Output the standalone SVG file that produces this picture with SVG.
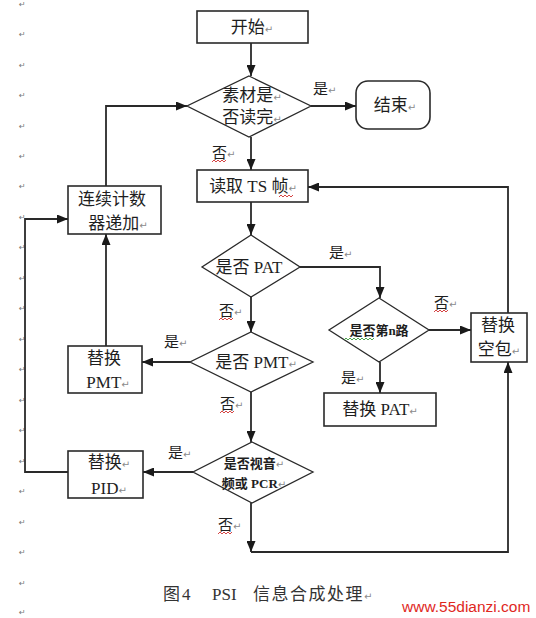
<svg xmlns="http://www.w3.org/2000/svg" width="536" height="618" viewBox="0 0 536 618">
<style>
.box{fill:#fff;stroke:#2a2a2a;stroke-width:1.6}
.dia{fill:#fff;stroke:#2a2a2a;stroke-width:1.3}
.ln{fill:none;stroke:#2a2a2a;stroke-width:1.8}
.t{font-family:"Liberation Serif","Noto Sans CJK SC",serif;font-size:17px;fill:#1e1e1e;text-anchor:middle}
.s{font-family:"Liberation Serif","Noto Sans CJK SC",serif;font-size:13px;fill:#1e1e1e;text-anchor:middle;font-weight:bold}
.lb{font-family:"Liberation Serif","Noto Sans CJK SC",serif;font-size:15px;fill:#1e1e1e}
.pm{font-family:"DejaVu Sans",sans-serif;font-size:10px;fill:#8a8a8a;font-weight:normal}
.mg{font-family:"DejaVu Sans",sans-serif;font-size:8px;fill:#777}
.sq{fill:none;stroke:#d03030;stroke-width:0.9}
.cap{font-family:"Liberation Serif","Noto Sans CJK SC",serif;font-size:17px;fill:#333}
.wm{font-family:"Liberation Sans",Arial,sans-serif;font-size:15.5px;fill:#e0281e}
</style>
<defs>
<marker id="ah" markerUnits="userSpaceOnUse" markerWidth="11" markerHeight="9" refX="11" refY="4.5" orient="auto">
<path d="M0,0 L11,4.5 L0,9 z" fill="#1a1a1a"/>
</marker>
</defs>
<rect width="536" height="618" fill="#fff"/>

<g id="margin-marks" class="mg">
<text x="19" y="7">↵</text><text x="19" y="37">↵</text><text x="19" y="68">↵</text><text x="19" y="98">↵</text><text x="19" y="129">↵</text><text x="19" y="159">↵</text><text x="19" y="189">↵</text><text x="19" y="220">↵</text><text x="19" y="250">↵</text><text x="19" y="281">↵</text><text x="19" y="311">↵</text><text x="19" y="342">↵</text><text x="19" y="372">↵</text><text x="19" y="403">↵</text><text x="19" y="433">↵</text><text x="19" y="464">↵</text><text x="19" y="494">↵</text><text x="19" y="525">↵</text><text x="19" y="555">↵</text><text x="19" y="586">↵</text><text x="19" y="615">↵</text>
</g>

<g id="connectors">
<path class="ln" d="M251,43 V76" marker-end="url(#ah)"/>
<path class="ln" d="M311,106 H356" marker-end="url(#ah)"/>
<path class="ln" d="M251,137 V170" marker-end="url(#ah)"/>
<path class="ln" d="M251,202 V235" marker-end="url(#ah)"/>
<path class="ln" d="M300,267 H380 V298" marker-end="url(#ah)"/>
<path class="ln" d="M251,297 V332" marker-end="url(#ah)"/>
<path class="ln" d="M190,362 H142" marker-end="url(#ah)"/>
<path class="ln" d="M251,392 V442" marker-end="url(#ah)"/>
<path class="ln" d="M193,472 H143" marker-end="url(#ah)"/>
<path class="ln" d="M251,503 V552" marker-end="url(#ah)"/>
<path class="ln" d="M251,552 H508 V362" marker-end="url(#ah)"/>
<path class="ln" d="M429,330 H471" marker-end="url(#ah)"/>
<path class="ln" d="M380,362 V393" marker-end="url(#ah)"/>
<path class="ln" d="M508,313 V187 H308" marker-end="url(#ah)"/>
<path class="ln" d="M106,346 V234" marker-end="url(#ah)"/>
<path class="ln" d="M68,472 H25 V219 H68" marker-end="url(#ah)"/>
<path class="ln" d="M106,186 V106 H187" marker-end="url(#ah)"/>
<text class="lb" x="313" y="94">是<tspan class="pm">↵</tspan></text>
<text class="lb" x="212" y="158">否<tspan class="pm">↵</tspan></text>
<text class="lb" x="329" y="258">是<tspan class="pm">↵</tspan></text>
<text class="lb" x="219" y="316">否<tspan class="pm">↵</tspan></text>
<text class="lb" x="164" y="347">是<tspan class="pm">↵</tspan></text>
<text class="lb" x="220" y="409">否<tspan class="pm">↵</tspan></text>
<text class="lb" x="168" y="458">是<tspan class="pm">↵</tspan></text>
<text class="lb" x="218" y="530">否<tspan class="pm">↵</tspan></text>
<text class="lb" x="434" y="308">否<tspan class="pm">↵</tspan></text>
<text class="lb" x="341" y="383">是<tspan class="pm">↵</tspan></text>
<path class="sq" d="M212,162 l2,-2 l2,2 l2,-2 l2,2 l2,-2 l2,2 l2,-2"/>
<path class="sq" d="M219,320 l2,-2 l2,2 l2,-2 l2,2 l2,-2 l2,2 l2,-2"/>
<path class="sq" d="M220,413 l2,-2 l2,2 l2,-2 l2,2 l2,-2 l2,2 l2,-2"/>
<path class="sq" d="M218,534 l2,-2 l2,2 l2,-2 l2,2 l2,-2 l2,2 l2,-2"/>
<path class="sq" d="M434,312 l2,-2 l2,2 l2,-2 l2,2 l2,-2 l2,2 l2,-2"/>
</g>

<g id="start">
<rect class="box" x="197" y="11" width="111" height="32"/>
<text class="t" x="252" y="33">开始<tspan class="pm">↵</tspan></text>
</g>

<g id="check-done">
<polygon class="dia" points="249,76 311,106 249,137 187,106"/>
<text class="t" x="252" y="101">素材是<tspan class="pm">↵</tspan></text>
<text class="t" x="252" y="123">否读完<tspan class="pm">↵</tspan></text>
</g>

<g id="end">
<rect class="box" x="356" y="81" width="74" height="48" rx="12" ry="12"/>
<text class="t" x="395" y="111">结束<tspan class="pm">↵</tspan></text>
</g>

<g id="read-ts">
<rect class="box" x="197" y="170" width="111" height="32"/>
<text class="t" x="253" y="192">读取 TS 帧<tspan class="pm">↵</tspan></text>
<path class="sq" d="M279,197 l2,-2 l2,2 l2,-2 l2,2 l2,-2 l2,2 l2,-2"/>
</g>

<g id="is-pat">
<polygon class="dia" points="251,235 300,267 251,297 202,267"/>
<text class="t" x="249" y="273">是否 PAT</text>
</g>

<g id="is-nth">
<polygon class="dia" points="379,298 429,330 379,362 329,330"/>
<text class="s" x="379" y="335">是否第n路</text>
<path fill="none" stroke="#3a9a3a" stroke-width="0.9" d="M344,340 l2,-2 l2,2 l2,-2 l2,2 l2,-2 l2,2 l2,-2 l2,2 l2,-2 l2,2 l2,-2 l2,2 l2,-2 l2,2 l2,-2"/>
</g>

<g id="replace-null">
<rect class="box" x="471" y="313" width="56" height="49"/>
<text class="t" x="498" y="331">替换</text>
<text class="t" x="499" y="355">空包<tspan class="pm">↵</tspan></text>
</g>

<g id="replace-pat">
<rect class="box" x="324" y="393" width="112" height="33"/>
<text class="t" x="380" y="415">替换 PAT<tspan class="pm">↵</tspan></text>
</g>

<g id="is-pmt">
<polygon class="dia" points="251,332 313,362 251,392 190,362"/>
<text class="t" x="256" y="368">是否 PMT<tspan class="pm">↵</tspan></text>
</g>

<g id="is-av">
<polygon class="dia" points="252,442 313,472 252,503 193,472"/>
<text class="s" x="254" y="468">是否视音<tspan class="pm">↵</tspan></text>
<text class="s" x="254" y="488">频或 PCR<tspan class="pm">↵</tspan></text>
</g>

<g id="counter">
<rect class="box" x="68" y="186" width="93" height="48"/>
<text class="t" x="112" y="205">连续计数</text>
<text class="t" x="118" y="229">器递加<tspan class="pm">↵</tspan></text>
</g>

<g id="replace-pmt">
<rect class="box" x="68" y="346" width="74" height="47"/>
<text class="t" x="104" y="364">替换</text>
<text class="t" x="108" y="388">PMT<tspan class="pm">↵</tspan></text>
</g>

<g id="replace-pid">
<rect class="box" x="68" y="451" width="75" height="47"/>
<text class="t" x="109" y="468">替换<tspan class="pm">↵</tspan></text>
<text class="t" x="109" y="494">PID<tspan class="pm">↵</tspan></text>
</g>

<g id="caption">
<text class="cap" y="600"><tspan x="163">图</tspan><tspan x="182">4</tspan><tspan x="212">PSI</tspan><tspan x="253" letter-spacing="1.5">信息合成处理</tspan><tspan class="pm">↵</tspan></text>
<text class="wm" x="402" y="612">www.55dianzi.com</text>
</g>
</svg>
